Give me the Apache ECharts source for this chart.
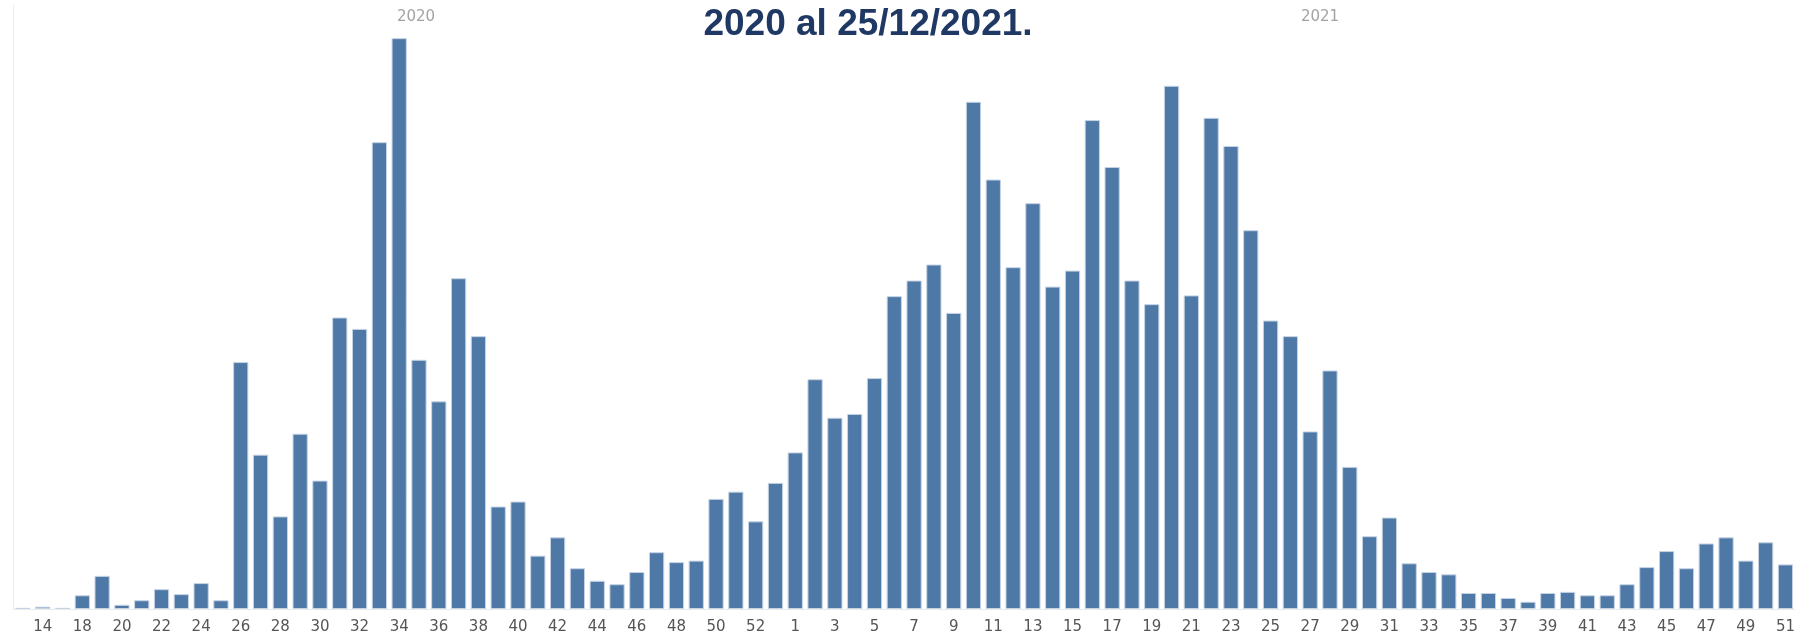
<!DOCTYPE html>
<html>
<head>
<meta charset="utf-8">
<title>Casos por semana epidemiológica</title>
<script src="https://cdn.jsdelivr.net/npm/echarts@6/dist/echarts.min.js"></script>
<style>
  html, body { margin: 0; padding: 0; background: #fff; }
  #chart { width: 1798px; height: 635px; }
</style>
</head>
<body>
<div id="chart"></div>
<script>
// semanas epidemiológicas (la 3ª barra de 2020 no lleva etiqueta en el original)
const weeks2020 = [13, 14, 16, 18, 19, 20, 21, 22, 23, 24, 25, 26, 27, 28, 29, 30, 31, 32, 33, 34,
  35, 36, 37, 38, 39, 40, 41, 42, 43, 44, 45, 46, 47, 48, 49, 50, 51, 52, 53];
const weeks2021 = [1, 2, 3, 4, 5, 6, 7, 8, 9, 10, 11, 12, 13, 14, 15, 16, 17, 18, 19, 20,
  21, 22, 23, 24, 25, 26, 27, 28, 29, 30, 31, 32, 33, 34, 35, 36, 37, 38, 39, 40,
  41, 42, 43, 44, 45, 46, 47, 48, 49, 50, 51];

// valores (escala relativa)
const cases2020 = [3, 6, 3, 36, 87, 11, 23, 52, 39, 68, 23, 648, 405, 243, 460, 337, 765, 735, 1225, 1498,
  654, 545, 868, 716, 269, 282, 140, 188, 107, 74, 65, 97, 149, 123, 127, 289, 308, 230, 331];
const cases2021 = [411, 603, 502, 512, 606, 821, 862, 904, 777, 1331, 1127, 897, 1065, 846, 888, 1283, 1160, 862, 800, 1373,
  823, 1289, 1215, 994, 757, 716, 466, 626, 373, 191, 240, 120, 97, 91, 42, 42, 29, 19, 42, 45,
  36, 36, 65, 110, 152, 107, 172, 188, 127, 175, 117];

const years = ['2020', '2021'];
const titleText = '2020 al 25/12/2021.';

const categories = weeks2020.map(w => years[0] + '-' + w)
  .concat(weeks2021.map(w => years[1] + '-' + w));
const values = cases2020.concat(cases2021);

let myChart = echarts.init(document.getElementById('chart'));

let option = {
  animation: false,
  grid: {
    left: 13,
    right: 1,
    top: 5,
    bottom: 25
  },
  graphic: [
    {
      type: 'text',
      x: 868,
      y: 25,
      style: {
        text: titleText,
        fill: '#1f3864',
        font: 'bold 37px "Liberation Sans", Arial, sans-serif',
        textAlign: 'center',
        textVerticalAlign: 'middle'
      }
    },
    {
      type: 'text',
      x: 416,
      y: 17,
      style: {
        text: years[0],
        fill: '#a3a3a3',
        font: '15px "DejaVu Sans", sans-serif',
        textAlign: 'center',
        textVerticalAlign: 'middle'
      }
    },
    {
      type: 'text',
      x: 1320,
      y: 17,
      style: {
        text: years[1],
        fill: '#a3a3a3',
        font: '15px "DejaVu Sans", sans-serif',
        textAlign: 'center',
        textVerticalAlign: 'middle'
      }
    }
  ],
  xAxis: {
    type: 'category',
    data: categories,
    axisLine: {
      show: true,
      lineStyle: { color: '#ebebeb' }
    },
    axisTick: { show: false },
    axisLabel: {
      color: '#555555',
      fontFamily: 'DejaVu Sans',
      fontSize: 15,
      margin: 11,
      interval: (index) => index % 2 === 1,
      formatter: (v) => v.split('-')[1]
    }
  },
  yAxis: {
    type: 'value',
    min: 0,
    max: 1585,
    axisLine: {
      show: true,
      lineStyle: { color: '#ebebeb' }
    },
    axisTick: { show: false },
    axisLabel: { show: false },
    splitLine: { show: false }
  },
  series: [
    {
      type: 'bar',
      data: values,
      barCategoryGap: '23%',
      itemStyle: {
        color: '#4e79a7',
        borderColor: '#c6d4e4',
        borderWidth: 1
      }
    }
  ]
};

myChart.setOption(option);
</script>
</body>
</html>
